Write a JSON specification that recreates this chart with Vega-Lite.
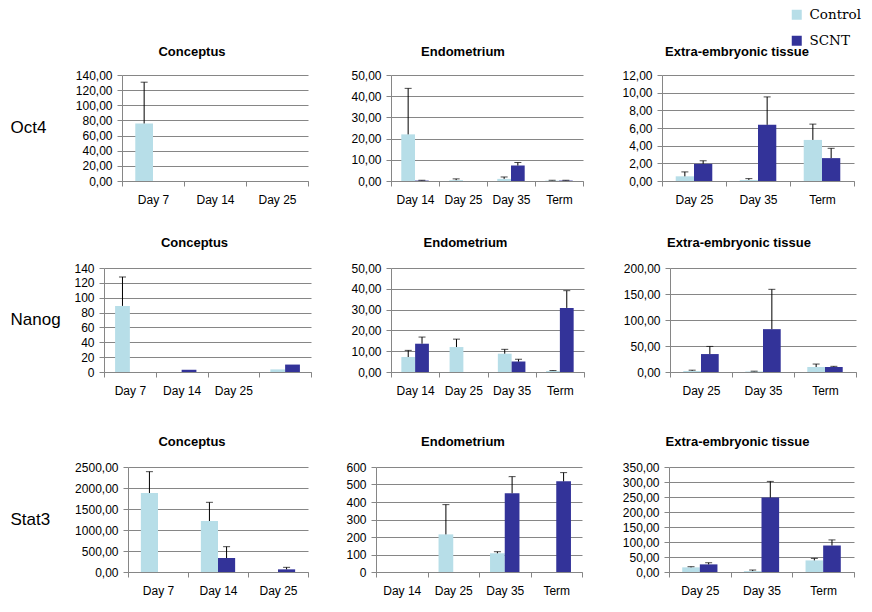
{
  "$schema": "https://vega.github.io/schema/vega-lite/v6.json",
  "padding": {"left": 10, "top": 8, "right": 5, "bottom": 5},
  "background": "white",
  "data": {"values": [
    {"gene":"Oct4","tissue":"Conceptus","day":"Day 7","group":"Control","value":76,"upper":130.5},
    {"gene":"Oct4","tissue":"Conceptus","day":"Day 7","group":"SCNT","value":0},
    {"gene":"Oct4","tissue":"Conceptus","day":"Day 14","group":"Control","value":0},
    {"gene":"Oct4","tissue":"Conceptus","day":"Day 14","group":"SCNT","value":0},
    {"gene":"Oct4","tissue":"Conceptus","day":"Day 25","group":"Control","value":0},
    {"gene":"Oct4","tissue":"Conceptus","day":"Day 25","group":"SCNT","value":0},
    {"gene":"Oct4","tissue":"Endometrium","day":"Day 14","group":"Control","value":22.0,"upper":43.7},
    {"gene":"Oct4","tissue":"Endometrium","day":"Day 14","group":"SCNT","value":0.2,"upper":0.35},
    {"gene":"Oct4","tissue":"Endometrium","day":"Day 25","group":"Control","value":0.4,"upper":1.0},
    {"gene":"Oct4","tissue":"Endometrium","day":"Day 25","group":"SCNT","value":0},
    {"gene":"Oct4","tissue":"Endometrium","day":"Day 35","group":"Control","value":1.0,"upper":1.9},
    {"gene":"Oct4","tissue":"Endometrium","day":"Day 35","group":"SCNT","value":7.3,"upper":8.7},
    {"gene":"Oct4","tissue":"Endometrium","day":"Term","group":"Control","value":0.2,"upper":0.35},
    {"gene":"Oct4","tissue":"Endometrium","day":"Term","group":"SCNT","value":0.2,"upper":0.35},
    {"gene":"Oct4","tissue":"Extra-embryonic tissue","day":"Day 25","group":"Control","value":0.53,"upper":1.03},
    {"gene":"Oct4","tissue":"Extra-embryonic tissue","day":"Day 25","group":"SCNT","value":1.94,"upper":2.29},
    {"gene":"Oct4","tissue":"Extra-embryonic tissue","day":"Day 35","group":"Control","value":0.12,"upper":0.27},
    {"gene":"Oct4","tissue":"Extra-embryonic tissue","day":"Day 35","group":"SCNT","value":6.36,"upper":9.52},
    {"gene":"Oct4","tissue":"Extra-embryonic tissue","day":"Term","group":"Control","value":4.65,"upper":6.44},
    {"gene":"Oct4","tissue":"Extra-embryonic tissue","day":"Term","group":"SCNT","value":2.59,"upper":3.7},
    {"gene":"Nanog","tissue":"Conceptus","day":"Day 7","group":"Control","value":89,"upper":128},
    {"gene":"Nanog","tissue":"Conceptus","day":"Day 7","group":"SCNT","value":0},
    {"gene":"Nanog","tissue":"Conceptus","day":"Day 14","group":"Control","value":0},
    {"gene":"Nanog","tissue":"Conceptus","day":"Day 14","group":"SCNT","value":3},
    {"gene":"Nanog","tissue":"Conceptus","day":"Day 25","group":"Control","value":0},
    {"gene":"Nanog","tissue":"Conceptus","day":"Day 25","group":"SCNT","value":0},
    {"gene":"Nanog","tissue":"Conceptus","day":" ","group":"Control","value":3.5},
    {"gene":"Nanog","tissue":"Conceptus","day":" ","group":"SCNT","value":10},
    {"gene":"Nanog","tissue":"Endometrium","day":"Day 14","group":"Control","value":7.2,"upper":10.4},
    {"gene":"Nanog","tissue":"Endometrium","day":"Day 14","group":"SCNT","value":13.6,"upper":16.8},
    {"gene":"Nanog","tissue":"Endometrium","day":"Day 25","group":"Control","value":12.0,"upper":15.8},
    {"gene":"Nanog","tissue":"Endometrium","day":"Day 25","group":"SCNT","value":0},
    {"gene":"Nanog","tissue":"Endometrium","day":"Day 35","group":"Control","value":8.8,"upper":10.9},
    {"gene":"Nanog","tissue":"Endometrium","day":"Day 35","group":"SCNT","value":5.0,"upper":6.1},
    {"gene":"Nanog","tissue":"Endometrium","day":"Term","group":"Control","value":0.5,"upper":0.7},
    {"gene":"Nanog","tissue":"Endometrium","day":"Term","group":"SCNT","value":30.8,"upper":39.1},
    {"gene":"Nanog","tissue":"Extra-embryonic tissue","day":"Day 25","group":"Control","value":2.0,"upper":3.5},
    {"gene":"Nanog","tissue":"Extra-embryonic tissue","day":"Day 25","group":"SCNT","value":34.5,"upper":49.2},
    {"gene":"Nanog","tissue":"Extra-embryonic tissue","day":"Day 35","group":"Control","value":1.0,"upper":1.6},
    {"gene":"Nanog","tissue":"Extra-embryonic tissue","day":"Day 35","group":"SCNT","value":82.4,"upper":159},
    {"gene":"Nanog","tissue":"Extra-embryonic tissue","day":"Term","group":"Control","value":9.6,"upper":15.3},
    {"gene":"Nanog","tissue":"Extra-embryonic tissue","day":"Term","group":"SCNT","value":9.6,"upper":10.9},
    {"gene":"Stat3","tissue":"Conceptus","day":"Day 7","group":"Control","value":1881,"upper":2389},
    {"gene":"Stat3","tissue":"Conceptus","day":"Day 7","group":"SCNT","value":0},
    {"gene":"Stat3","tissue":"Conceptus","day":"Day 14","group":"Control","value":1214,"upper":1659},
    {"gene":"Stat3","tissue":"Conceptus","day":"Day 14","group":"SCNT","value":333,"upper":603},
    {"gene":"Stat3","tissue":"Conceptus","day":"Day 25","group":"Control","value":0},
    {"gene":"Stat3","tissue":"Conceptus","day":"Day 25","group":"SCNT","value":63,"upper":111},
    {"gene":"Stat3","tissue":"Endometrium","day":"Day 14","group":"Control","value":0},
    {"gene":"Stat3","tissue":"Endometrium","day":"Day 14","group":"SCNT","value":0},
    {"gene":"Stat3","tissue":"Endometrium","day":"Day 25","group":"Control","value":215,"upper":385},
    {"gene":"Stat3","tissue":"Endometrium","day":"Day 25","group":"SCNT","value":0},
    {"gene":"Stat3","tissue":"Endometrium","day":"Day 35","group":"Control","value":107,"upper":116},
    {"gene":"Stat3","tissue":"Endometrium","day":"Day 35","group":"SCNT","value":450,"upper":545},
    {"gene":"Stat3","tissue":"Endometrium","day":"Term","group":"Control","value":0},
    {"gene":"Stat3","tissue":"Endometrium","day":"Term","group":"SCNT","value":518,"upper":568},
    {"gene":"Stat3","tissue":"Extra-embryonic tissue","day":"Day 25","group":"Control","value":15.5,"upper":17.7},
    {"gene":"Stat3","tissue":"Extra-embryonic tissue","day":"Day 25","group":"SCNT","value":25.4,"upper":30.9},
    {"gene":"Stat3","tissue":"Extra-embryonic tissue","day":"Day 35","group":"Control","value":3,"upper":6.6},
    {"gene":"Stat3","tissue":"Extra-embryonic tissue","day":"Day 35","group":"SCNT","value":248,"upper":302},
    {"gene":"Stat3","tissue":"Extra-embryonic tissue","day":"Term","group":"Control","value":38.6,"upper":45.3},
    {"gene":"Stat3","tissue":"Extra-embryonic tissue","day":"Term","group":"SCNT","value":88.3,"upper":107}
  ]},
  "resolve": {"scale": {"xOffset": "independent"}},
  "spacing": 32,
  "vconcat": [
    {
      "spacing": 10,
      "resolve": {"scale": {"xOffset": "independent"}},
      "hconcat": [
        {
          "width": 1, "height": 106,
          "transform": [{"filter": "datum.gene === 'Oct4'"}, {"aggregate": [{"op": "count", "as": "n"}], "groupby": ["gene"]}],
          "mark": {"type": "text", "align": "left", "baseline": "middle", "font": "Liberation Sans", "fontSize": 17, "color": "black"},
          "encoding": {"text": {"field": "gene", "type": "nominal"}}
        },
        {
          "width": 186, "height": 106,
          "title": {"text": "Conceptus", "dx": -23, "offset": 10},
          "transform": [{"filter": "datum.gene === 'Oct4' && datum.tissue === 'Conceptus'"}],
          "encoding": {
            "x": {"field": "day", "type": "nominal", "title": null, "scale": {"domain": ["Day 7", "Day 14", "Day 25"], "paddingInner": 0, "paddingOuter": 0}, "axis": {"labelAngle": 0, "tickBand": "extent"}},
            "xOffset": {"field": "group", "type": "nominal", "scale": {"domain": ["Control", "SCNT"], "paddingInner": 0, "paddingOuter": 0.75}}
          },
          "layer": [
            {"mark": {"type": "bar"}, "encoding": {
              "y": {"field": "value", "type": "quantitative", "scale": {"domain": [0, 140], "nice": false}, "axis": {"values": [0,20,40,60,80,100,120,140], "tickCount": 20, "labelOverlap": false, "labelExpr": "replace(format(datum.value,'.2f'),'.',',')", "title": " ", "titleAngle": 0, "titleAlign": "left", "titleBaseline": "middle", "titleX": -65, "titleY": 53}},
              "color": {"field": "group", "type": "nominal", "scale": {"domain": ["Control", "SCNT"], "range": ["#B7DEE8", "#333399"]}, "legend": {"title": null}}}},
            {"transform": [{"filter": "isValid(datum.upper)"}], "mark": {"type": "rule", "color": "black", "strokeWidth": 1}, "encoding": {"y": {"field": "value", "type": "quantitative", "scale": {"domain": [0, 140], "nice": false}}, "y2": {"field": "upper"}}},
            {"transform": [{"filter": "isValid(datum.upper)"}], "mark": {"type": "tick", "color": "black", "size": 7, "thickness": 1}, "encoding": {"y": {"field": "upper", "type": "quantitative", "scale": {"domain": [0, 140], "nice": false}}}}
          ]
        },
        {
          "width": 192, "height": 106,
          "title": {"text": "Endometrium", "dx": -24, "offset": 10},
          "transform": [{"filter": "datum.gene === 'Oct4' && datum.tissue === 'Endometrium'"}],
          "encoding": {
            "x": {"field": "day", "type": "nominal", "title": null, "scale": {"domain": ["Day 14", "Day 25", "Day 35", "Term"], "paddingInner": 0, "paddingOuter": 0}, "axis": {"labelAngle": 0, "tickBand": "extent"}},
            "xOffset": {"field": "group", "type": "nominal", "scale": {"domain": ["Control", "SCNT"], "paddingInner": 0, "paddingOuter": 0.75}}
          },
          "layer": [
            {"mark": {"type": "bar"}, "encoding": {
              "y": {"field": "value", "type": "quantitative", "scale": {"domain": [0, 50], "nice": false}, "axis": {"values": [0,10,20,30,40,50], "tickCount": 20, "labelOverlap": false, "labelExpr": "replace(format(datum.value,'.2f'),'.',',')", "title": " ", "titleAngle": 0, "titleAlign": "left", "titleBaseline": "middle", "titleX": -72, "titleY": 53}},
              "color": {"field": "group", "type": "nominal", "scale": {"domain": ["Control", "SCNT"], "range": ["#B7DEE8", "#333399"]}, "legend": {"title": null}}}},
            {"transform": [{"filter": "isValid(datum.upper)"}], "mark": {"type": "rule", "color": "black", "strokeWidth": 1}, "encoding": {"y": {"field": "value", "type": "quantitative", "scale": {"domain": [0, 50], "nice": false}}, "y2": {"field": "upper"}}},
            {"transform": [{"filter": "isValid(datum.upper)"}], "mark": {"type": "tick", "color": "black", "size": 7, "thickness": 1}, "encoding": {"y": {"field": "upper", "type": "quantitative", "scale": {"domain": [0, 50], "nice": false}}}}
          ]
        },
        {
          "width": 192, "height": 106,
          "title": {"text": "Extra-embryonic tissue", "dx": -21, "offset": 10},
          "transform": [{"filter": "datum.gene === 'Oct4' && datum.tissue === 'Extra-embryonic tissue'"}],
          "encoding": {
            "x": {"field": "day", "type": "nominal", "title": null, "scale": {"domain": ["Day 25", "Day 35", "Term"], "paddingInner": 0, "paddingOuter": 0}, "axis": {"labelAngle": 0, "tickBand": "extent"}},
            "xOffset": {"field": "group", "type": "nominal", "scale": {"domain": ["Control", "SCNT"], "paddingInner": 0, "paddingOuter": 0.75}}
          },
          "layer": [
            {"mark": {"type": "bar"}, "encoding": {
              "y": {"field": "value", "type": "quantitative", "scale": {"domain": [0, 12], "nice": false}, "axis": {"values": [0,2,4,6,8,10,12], "tickCount": 20, "labelOverlap": false, "labelExpr": "replace(format(datum.value,'.2f'),'.',',')", "title": " ", "titleAngle": 0, "titleAlign": "left", "titleBaseline": "middle", "titleX": -68, "titleY": 53}},
              "color": {"field": "group", "type": "nominal", "scale": {"domain": ["Control", "SCNT"], "range": ["#B7DEE8", "#333399"]}, "legend": {"title": null}}}},
            {"transform": [{"filter": "isValid(datum.upper)"}], "mark": {"type": "rule", "color": "black", "strokeWidth": 1}, "encoding": {"y": {"field": "value", "type": "quantitative", "scale": {"domain": [0, 12], "nice": false}}, "y2": {"field": "upper"}}},
            {"transform": [{"filter": "isValid(datum.upper)"}], "mark": {"type": "tick", "color": "black", "size": 7, "thickness": 1}, "encoding": {"y": {"field": "upper", "type": "quantitative", "scale": {"domain": [0, 12], "nice": false}}}}
          ]
        }
      ]
    },
    {
      "spacing": 40,
      "resolve": {"scale": {"xOffset": "independent"}},
      "vconcat": [
        {
          "spacing": 10,
          "resolve": {"scale": {"xOffset": "independent"}},
          "hconcat": [
            {
              "width": 1, "height": 104,
              "transform": [{"filter": "datum.gene === 'Nanog'"}, {"aggregate": [{"op": "count", "as": "n"}], "groupby": ["gene"]}],
              "mark": {"type": "text", "align": "left", "baseline": "middle", "font": "Liberation Sans", "fontSize": 17, "color": "black"},
              "encoding": {"text": {"field": "gene", "type": "nominal"}}
            },
            {
              "width": 207, "height": 104,
              "title": {"text": "Conceptus", "dx": -13, "offset": 12},
              "transform": [{"filter": "datum.gene === 'Nanog' && datum.tissue === 'Conceptus'"}],
              "encoding": {
                "x": {"field": "day", "type": "nominal", "title": null, "scale": {"domain": ["Day 7", "Day 14", "Day 25", " "], "paddingInner": 0, "paddingOuter": 0}, "axis": {"labelAngle": 0, "tickBand": "extent"}},
                "xOffset": {"field": "group", "type": "nominal", "scale": {"domain": ["Control", "SCNT"], "paddingInner": 0, "paddingOuter": 0.75}}
              },
              "layer": [
                {"mark": {"type": "bar"}, "encoding": {
                  "y": {"field": "value", "type": "quantitative", "scale": {"domain": [0, 140], "nice": false}, "axis": {"values": [0,20,40,60,80,100,120,140], "tickCount": 20, "labelOverlap": false, "format": "d", "title": " ", "titleAngle": 0, "titleAlign": "left", "titleBaseline": "middle", "titleX": -33, "titleY": 51}},
                  "color": {"field": "group", "type": "nominal", "scale": {"domain": ["Control", "SCNT"], "range": ["#B7DEE8", "#333399"]}, "legend": {"title": null}}}},
                {"transform": [{"filter": "isValid(datum.upper)"}], "mark": {"type": "rule", "color": "black", "strokeWidth": 1}, "encoding": {"y": {"field": "value", "type": "quantitative", "scale": {"domain": [0, 140], "nice": false}}, "y2": {"field": "upper"}}},
                {"transform": [{"filter": "isValid(datum.upper)"}], "mark": {"type": "tick", "color": "black", "size": 7, "thickness": 1}, "encoding": {"y": {"field": "upper", "type": "quantitative", "scale": {"domain": [0, 140], "nice": false}}}}
              ]
            },
            {
              "width": 193, "height": 104,
              "title": {"text": "Endometrium", "dx": -22, "offset": 12},
              "transform": [{"filter": "datum.gene === 'Nanog' && datum.tissue === 'Endometrium'"}],
              "encoding": {
                "x": {"field": "day", "type": "nominal", "title": null, "scale": {"domain": ["Day 14", "Day 25", "Day 35", "Term"], "paddingInner": 0, "paddingOuter": 0}, "axis": {"labelAngle": 0, "tickBand": "extent"}},
                "xOffset": {"field": "group", "type": "nominal", "scale": {"domain": ["Control", "SCNT"], "paddingInner": 0, "paddingOuter": 0.75}}
              },
              "layer": [
                {"mark": {"type": "bar"}, "encoding": {
                  "y": {"field": "value", "type": "quantitative", "scale": {"domain": [0, 50], "nice": false}, "axis": {"values": [0,10,20,30,40,50], "tickCount": 20, "labelOverlap": false, "labelExpr": "replace(format(datum.value,'.2f'),'.',',')", "title": " ", "titleAngle": 0, "titleAlign": "left", "titleBaseline": "middle", "titleX": -69, "titleY": 51}},
                  "color": {"field": "group", "type": "nominal", "scale": {"domain": ["Control", "SCNT"], "range": ["#B7DEE8", "#333399"]}, "legend": {"title": null}}}},
                {"transform": [{"filter": "isValid(datum.upper)"}], "mark": {"type": "rule", "color": "black", "strokeWidth": 1}, "encoding": {"y": {"field": "value", "type": "quantitative", "scale": {"domain": [0, 50], "nice": false}}, "y2": {"field": "upper"}}},
                {"transform": [{"filter": "isValid(datum.upper)"}], "mark": {"type": "tick", "color": "black", "size": 7, "thickness": 1}, "encoding": {"y": {"field": "upper", "type": "quantitative", "scale": {"domain": [0, 50], "nice": false}}}}
              ]
            },
            {
              "width": 186, "height": 104,
              "title": {"text": "Extra-embryonic tissue", "dx": -24, "offset": 12},
              "transform": [{"filter": "datum.gene === 'Nanog' && datum.tissue === 'Extra-embryonic tissue'"}],
              "encoding": {
                "x": {"field": "day", "type": "nominal", "title": null, "scale": {"domain": ["Day 25", "Day 35", "Term"], "paddingInner": 0, "paddingOuter": 0}, "axis": {"labelAngle": 0, "tickBand": "extent"}},
                "xOffset": {"field": "group", "type": "nominal", "scale": {"domain": ["Control", "SCNT"], "paddingInner": 0, "paddingOuter": 0.75}}
              },
              "layer": [
                {"mark": {"type": "bar"}, "encoding": {
                  "y": {"field": "value", "type": "quantitative", "scale": {"domain": [0, 200], "nice": false}, "axis": {"values": [0,50,100,150,200], "tickCount": 20, "labelOverlap": false, "labelExpr": "replace(format(datum.value,'.2f'),'.',',')", "title": " ", "titleAngle": 0, "titleAlign": "left", "titleBaseline": "middle", "titleX": -75, "titleY": 51}},
                  "color": {"field": "group", "type": "nominal", "scale": {"domain": ["Control", "SCNT"], "range": ["#B7DEE8", "#333399"]}, "legend": {"title": null}}}},
                {"transform": [{"filter": "isValid(datum.upper)"}], "mark": {"type": "rule", "color": "black", "strokeWidth": 1}, "encoding": {"y": {"field": "value", "type": "quantitative", "scale": {"domain": [0, 200], "nice": false}}, "y2": {"field": "upper"}}},
                {"transform": [{"filter": "isValid(datum.upper)"}], "mark": {"type": "tick", "color": "black", "size": 7, "thickness": 1}, "encoding": {"y": {"field": "upper", "type": "quantitative", "scale": {"domain": [0, 200], "nice": false}}}}
              ]
            }
          ]
        },
        {
          "spacing": 10,
          "resolve": {"scale": {"xOffset": "independent"}},
          "hconcat": [
            {
              "width": 1, "height": 105,
              "transform": [{"filter": "datum.gene === 'Stat3'"}, {"aggregate": [{"op": "count", "as": "n"}], "groupby": ["gene"]}],
              "mark": {"type": "text", "align": "left", "baseline": "middle", "font": "Liberation Sans", "fontSize": 17, "color": "black"},
              "encoding": {"text": {"field": "gene", "type": "nominal"}}
            },
            {
              "width": 180, "height": 105,
              "title": {"text": "Conceptus", "dx": -26, "offset": 12},
              "transform": [{"filter": "datum.gene === 'Stat3' && datum.tissue === 'Conceptus'"}],
              "encoding": {
                "x": {"field": "day", "type": "nominal", "title": null, "scale": {"domain": ["Day 7", "Day 14", "Day 25"], "paddingInner": 0, "paddingOuter": 0}, "axis": {"labelAngle": 0, "tickBand": "extent"}},
                "xOffset": {"field": "group", "type": "nominal", "scale": {"domain": ["Control", "SCNT"], "paddingInner": 0, "paddingOuter": 0.75}}
              },
              "layer": [
                {"mark": {"type": "bar"}, "encoding": {
                  "y": {"field": "value", "type": "quantitative", "scale": {"domain": [0, 2500], "nice": false}, "axis": {"values": [0,500,1000,1500,2000,2500], "tickCount": 20, "labelOverlap": false, "labelExpr": "replace(format(datum.value,'.2f'),'.',',')", "title": " ", "titleAngle": 0, "titleAlign": "left", "titleBaseline": "middle", "titleX": -67, "titleY": 51}},
                  "color": {"field": "group", "type": "nominal", "scale": {"domain": ["Control", "SCNT"], "range": ["#B7DEE8", "#333399"]}, "legend": {"title": null}}}},
                {"transform": [{"filter": "isValid(datum.upper)"}], "mark": {"type": "rule", "color": "black", "strokeWidth": 1}, "encoding": {"y": {"field": "value", "type": "quantitative", "scale": {"domain": [0, 2500], "nice": false}}, "y2": {"field": "upper"}}},
                {"transform": [{"filter": "isValid(datum.upper)"}], "mark": {"type": "tick", "color": "black", "size": 7, "thickness": 1}, "encoding": {"y": {"field": "upper", "type": "quantitative", "scale": {"domain": [0, 2500], "nice": false}}}}
              ]
            },
            {
              "width": 206, "height": 105,
              "title": {"text": "Endometrium", "dx": -16, "offset": 12},
              "transform": [{"filter": "datum.gene === 'Stat3' && datum.tissue === 'Endometrium'"}],
              "encoding": {
                "x": {"field": "day", "type": "nominal", "title": null, "scale": {"domain": ["Day 14", "Day 25", "Day 35", "Term"], "paddingInner": 0, "paddingOuter": 0}, "axis": {"labelAngle": 0, "tickBand": "extent"}},
                "xOffset": {"field": "group", "type": "nominal", "scale": {"domain": ["Control", "SCNT"], "paddingInner": 0, "paddingOuter": 0.75}}
              },
              "layer": [
                {"mark": {"type": "bar"}, "encoding": {
                  "y": {"field": "value", "type": "quantitative", "scale": {"domain": [0, 600], "nice": false}, "axis": {"values": [0,100,200,300,400,500,600], "tickCount": 20, "labelOverlap": false, "format": "d", "title": " ", "titleAngle": 0, "titleAlign": "left", "titleBaseline": "middle", "titleX": -57, "titleY": 51}},
                  "color": {"field": "group", "type": "nominal", "scale": {"domain": ["Control", "SCNT"], "range": ["#B7DEE8", "#333399"]}, "legend": {"title": null}}}},
                {"transform": [{"filter": "isValid(datum.upper)"}], "mark": {"type": "rule", "color": "black", "strokeWidth": 1}, "encoding": {"y": {"field": "value", "type": "quantitative", "scale": {"domain": [0, 600], "nice": false}}, "y2": {"field": "upper"}}},
                {"transform": [{"filter": "isValid(datum.upper)"}], "mark": {"type": "tick", "color": "black", "size": 7, "thickness": 1}, "encoding": {"y": {"field": "upper", "type": "quantitative", "scale": {"domain": [0, 600], "nice": false}}}}
              ]
            },
            {
              "width": 185, "height": 105,
              "title": {"text": "Extra-embryonic tissue", "dx": -24, "offset": 12},
              "transform": [{"filter": "datum.gene === 'Stat3' && datum.tissue === 'Extra-embryonic tissue'"}],
              "encoding": {
                "x": {"field": "day", "type": "nominal", "title": null, "scale": {"domain": ["Day 25", "Day 35", "Term"], "paddingInner": 0, "paddingOuter": 0}, "axis": {"labelAngle": 0, "tickBand": "extent"}},
                "xOffset": {"field": "group", "type": "nominal", "scale": {"domain": ["Control", "SCNT"], "paddingInner": 0, "paddingOuter": 0.75}}
              },
              "layer": [
                {"mark": {"type": "bar"}, "encoding": {
                  "y": {"field": "value", "type": "quantitative", "scale": {"domain": [0, 350], "nice": false}, "axis": {"values": [0,50,100,150,200,250,300,350], "tickCount": 20, "labelOverlap": false, "labelExpr": "replace(format(datum.value,'.2f'),'.',',')", "title": " ", "titleAngle": 0, "titleAlign": "left", "titleBaseline": "middle", "titleX": -76, "titleY": 51}},
                  "color": {"field": "group", "type": "nominal", "scale": {"domain": ["Control", "SCNT"], "range": ["#B7DEE8", "#333399"]}, "legend": {"title": null}}}},
                {"transform": [{"filter": "isValid(datum.upper)"}], "mark": {"type": "rule", "color": "black", "strokeWidth": 1}, "encoding": {"y": {"field": "value", "type": "quantitative", "scale": {"domain": [0, 350], "nice": false}}, "y2": {"field": "upper"}}},
                {"transform": [{"filter": "isValid(datum.upper)"}], "mark": {"type": "tick", "color": "black", "size": 7, "thickness": 1}, "encoding": {"y": {"field": "upper", "type": "quantitative", "scale": {"domain": [0, 350], "nice": false}}}}
              ]
            }
          ]
        }
      ]
    }
  ],
  "config": {
    "view": {"stroke": null},
    "font": "Liberation Sans",
    "axis": {"labelFont": "Liberation Sans", "labelFontSize": 12, "labelColor": "black", "domainColor": "#868686", "tickColor": "#868686", "gridColor": "#868686", "tickSize": 5, "titleColor": "black", "titleFont": "Liberation Sans", "titleFontSize": 12},
    "axisX": {"grid": false, "labelPadding": 8},
    "axisY": {"grid": true, "labelPadding": 5},
    "title": {"font": "Liberation Sans", "fontSize": 13, "fontWeight": "bold", "color": "black", "anchor": "middle", "frame": "group"},
    "legend": {"orient": "none", "legendX": 780, "legendY": -67, "symbolType": "square", "symbolSize": 100, "symbolStrokeWidth": 0, "labelFont": "DejaVu Serif", "labelFontSize": 13.5, "labelColor": "black", "rowPadding": 11, "labelOffset": 6, "padding": 0}
  }
}
